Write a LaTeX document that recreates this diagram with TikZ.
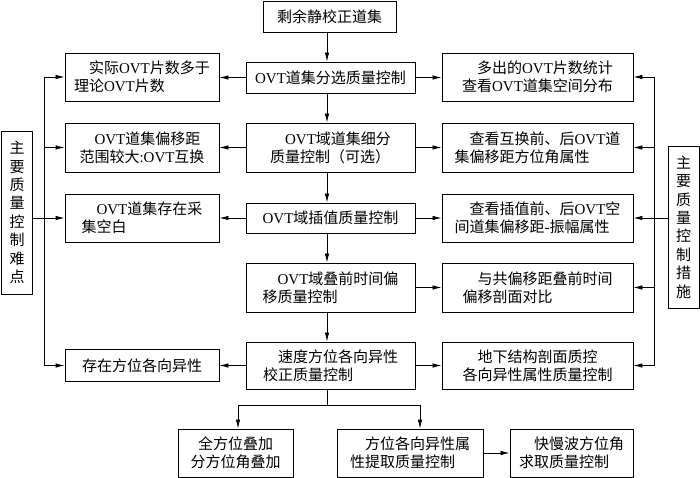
\documentclass[tikz,border=0pt]{standalone}
\usepackage{fontspec}
\setmainfont{Noto Sans CJK SC}
\newfontfamily\lt{Liberation Serif}
\newcommand\OVT{{\lt OVT}}
\usetikzlibrary{arrows.meta,calc}
\begin{document}
\begin{tikzpicture}[x=1pt,y=-1pt,
  box/.style={draw, line width=0.9pt, inner sep=2pt, align=left, font=\fontsize{15}{18}\selectfont},
  cbox/.style={box, align=center},
  vbox/.style={draw, line width=0.9pt, inner sep=1pt, align=center, minimum width=31pt, font=\fontsize{15}{18.4}\selectfont},
  arr/.style={-{Latex[length=9pt,width=4.5pt]}, line width=0.8pt},
  ln/.style={line width=0.8pt}]
\fill[white] (0,0) rectangle (700,478);
\useasboundingbox (0,0) rectangle (700,478);
% centre column
\node[box, minimum width=133pt, minimum height=31pt] (top) at (329.5,16.5) {剩余静校正道集};
\node[box, minimum width=169pt, minimum height=31pt] (c1) at (330.5,77.5) {\OVT{}道集分选质量控制};
\node[box, minimum width=169pt, minimum height=49pt] (c2) at (330.5,147.5) {\hspace*{1em}\OVT{}域道集细分\\质量控制（可选）};
\node[box, minimum width=169pt, minimum height=30pt] (c3) at (330.5,218) {\OVT{}域插值质量控制};
\node[box, minimum width=169pt, minimum height=49pt] (c4) at (330.5,287.5) {\hspace*{1em}\OVT{}域叠前时间偏\\移质量控制};
\node[box, minimum width=169pt, minimum height=47pt] (c5) at (330.5,365.5) {\hspace*{1em}速度方位各向异性\\校正质量控制};
% left column
\node[box, minimum width=154pt, minimum height=48pt] (l1) at (142,77) {\hspace*{1em}实际\OVT{}片数多于\\理论\OVT{}片数};
\node[box, minimum width=154pt, minimum height=49pt] (l2) at (142,147.5) {\hspace*{1em}\OVT{}道集偏移距\\范围较大{\lt :}\OVT{}互换};
\node[box, minimum width=154pt, minimum height=48pt] (l3) at (142,218) {\hspace*{1em}\OVT{}道集存在采\\集空白};
\node[box, minimum width=154pt, minimum height=32pt] (l5) at (142,365.5) {存在方位各向异性};
% right column
\node[box, minimum width=191pt, minimum height=48pt] (r1) at (537.5,77) {\hspace*{1em}多出的\OVT{}片数统计\\查看\OVT{}道集空间分布};
\node[box, minimum width=191pt, minimum height=49pt] (r2) at (537.5,147.5) {\hspace*{1em}查看互换前、后\OVT{}道\\集偏移距方位角属性};
\node[box, minimum width=191pt, minimum height=48pt] (r3) at (537.5,218) {\hspace*{1em}查看插值前、后\OVT{}空\\间道集偏移距{\lt -}振幅属性};
\node[box, minimum width=191pt, minimum height=49pt] (r4) at (537.5,287.5) {\hspace*{1em}与共偏移距叠前时间\\偏移剖面对比};
\node[box, minimum width=191pt, minimum height=47pt] (r5) at (537.5,365.5) {\hspace*{1em}地下结构剖面质控\\各向异性属性质量控制};
% side labels
\node[vbox, minimum height=163pt] (ll) at (17,212.5) {主\\要\\质\\量\\控\\制\\难\\点};
\node[vbox, minimum height=162pt] (rl) at (683.5,227) {主\\要\\质\\量\\控\\制\\措\\施};
% bottom row
\node[cbox, minimum width=115pt, minimum height=48pt] (ba) at (235.5,453) {全方位叠加\\分方位角叠加};
\node[box, minimum width=146pt, minimum height=48pt] (bb) at (410,453) {\hspace*{1em}方位各向异性属\\性提取质量控制};
\node[box, minimum width=123pt, minimum height=48pt] (bc) at (571.5,453) {\hspace*{1em}快慢波方位角\\求取质量控制};
% helper coordinates
\coordinate (vx) at (327,0);
\coordinate (bl) at (44,0);
\coordinate (br) at (654,0);
\coordinate (split) at (327,405);
% vertical chain
\draw[arr] (top.south -| vx) -- (c1.north -| vx);
\draw[arr] (c1.south -| vx) -- (c2.north -| vx);
\draw[arr] (c2.south -| vx) -- (c3.north -| vx);
\draw[arr] (c3.south -| vx) -- (c4.north -| vx);
\draw[arr] (c4.south -| vx) -- (c5.north -| vx);
% centre to left
\draw[arr] (c1.west) -- (l1.east |- c1.west);
\draw[arr] (c2.west) -- (l2.east |- c2.west);
\draw[arr] (c3.west) -- (l3.east |- c3.west);
\draw[arr] (c5.west) -- (l5.east |- c5.west);
% centre to right
\draw[arr] (c1.east) -- (r1.west |- c1.east);
\draw[arr] (c2.east) -- (r2.west |- c2.east);
\draw[arr] (c3.east) -- (r3.west |- c3.east);
\draw[arr] (c4.east) -- (r4.west |- c4.east);
\draw[arr] (c5.east) -- (r5.west |- c5.east);
% left bus
\draw[ln] (bl |- l1.west) -- (bl |- l5.west);
\draw[arr] (bl |- l1.west) -- (l1.west);
\draw[arr] (bl |- l2.west) -- (l2.west);
\draw[arr] (ll.east |- l3.west) -- (l3.west);
\draw[arr] (bl |- l5.west) -- (l5.west);
% right bus
\draw[ln] (br |- r1.east) -- (br |- r5.east);
\draw[arr] (br |- r1.east) -- (r1.east);
\draw[arr] (br |- r2.east) -- (r2.east);
\draw[arr] (rl.west |- r3.east) -- (r3.east);
\draw[arr] (br |- r4.east) -- (r4.east);
\draw[arr] (br |- r5.east) -- (r5.east);
% bottom branches
\draw[ln] (c5.south -| vx) -- (split);
\draw[arr] (split) -| ([xshift=2.5pt]ba.north);
\draw[arr] (split) -| ([xshift=10pt]bb.north);
\draw[arr] (bb.east) -- (bc.west);
\end{tikzpicture}
\end{document}
